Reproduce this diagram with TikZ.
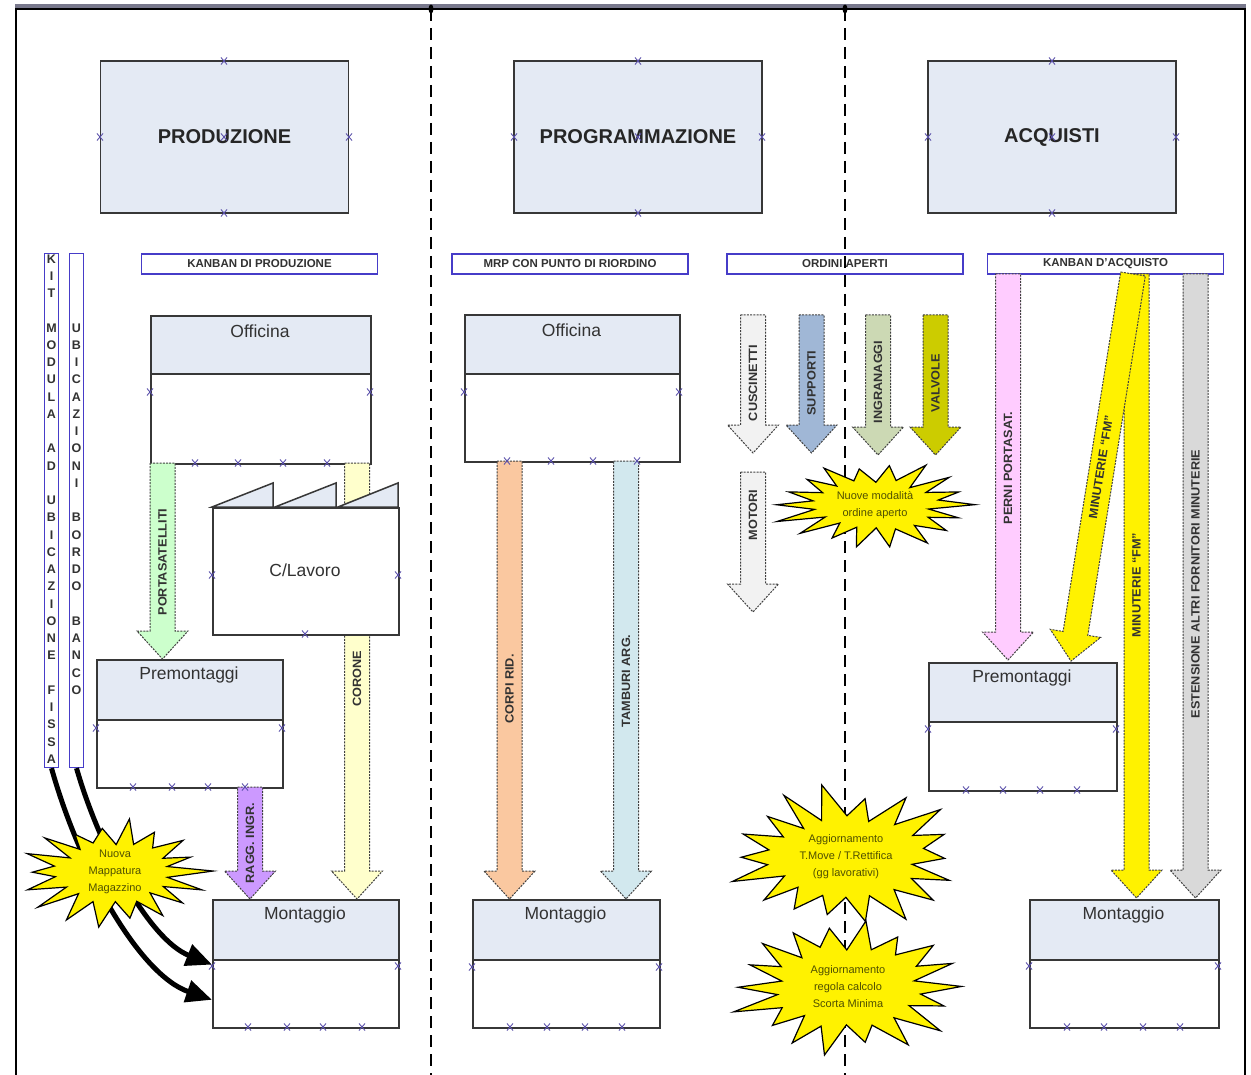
\documentclass[tikz,border=0pt]{standalone}
\usepackage{fontspec}
\setmainfont{Liberation Sans}
\newfontfamily\lblfont[FakeStretch=1.06]{Liberation Sans}
\usetikzlibrary{arrows.meta,calc}
\definecolor{boxblue}{RGB}{228,234,244}
\definecolor{boxline}{RGB}{55,55,55}
\definecolor{hdrblue}{RGB}{70,60,200}
\definecolor{xcol}{RGB}{90,80,170}
\definecolor{txtgray}{RGB}{50,50,50}
\definecolor{burstTxt}{RGB}{80,80,0}
\definecolor{cGreen}{RGB}{204,255,204}
\definecolor{cLYellow}{RGB}{255,255,204}
\definecolor{cPurple}{RGB}{204,153,255}
\definecolor{cOrange}{RGB}{250,200,160}
\definecolor{cCyan}{RGB}{210,232,238}
\definecolor{cLGray}{RGB}{242,242,242}
\definecolor{cSteel}{RGB}{160,183,214}
\definecolor{cOlive}{RGB}{204,217,180}
\definecolor{cDOlive}{RGB}{204,204,0}
\definecolor{cPink}{RGB}{255,204,255}
\definecolor{cGray}{RGB}{217,217,217}
\definecolor{frameGray}{RGB}{120,120,140}
\tikzset{
  bigbox/.style={draw=boxline, line width=1.6pt, fill=boxblue, minimum width=248pt, minimum height=152pt, inner sep=0pt, font=\fontsize{20}{24}\selectfont\bfseries, text=black!85},
  hdr/.style={draw=hdrblue, line width=1.6pt, fill=white, minimum width=236pt, minimum height=20pt, inner sep=0pt, font=\fontsize{11.5}{13}\selectfont\bfseries, text=txtgray},
  vbox/.style={draw=hdrblue, line width=1.3pt, fill=white, minimum width=14pt, minimum height=514pt, inner sep=0pt},
  vlet/.style={align=center, inner sep=0pt, font=\fontsize{12.5}{17.25}\selectfont\bfseries, text=txtgray},
  topP/.style={draw=boxline, line width=1.6pt, fill=boxblue, inner sep=0pt},
  botP/.style={draw=boxline, line width=1.6pt, fill=white, inner sep=0pt},
  btxt/.style={font=\fontsize{17.5}{20}\selectfont, text=txtgray, inner sep=0pt},
  alabel/.style={rotate=90, font=\lblfont\fontsize{12}{14}\selectfont\bfseries, text=txtgray, inner sep=0pt},
  dlabel/.style={rotate=80.9, font=\lblfont\fontsize{12}{14}\selectfont\bfseries, text=txtgray, inner sep=0pt},
  barrow/.style={draw=black!75, line width=1pt, dash pattern=on 2pt off 1.2pt},
  burstline/.style={fill=yellow, draw=black, line width=1.2pt, line join=miter, miter limit=20},
  bursttxt/.style={align=center, font=\fontsize{11}{17}\selectfont, text=burstTxt, inner sep=0pt},
  curvearrow/.style={line width=5pt, black, -{Triangle[length=26pt,width=22pt]}},
  sepline/.style={black, line width=1.5pt, dash pattern=on 12pt off 7pt},
  xm/.pic={\draw[xcol, line width=0.9pt] (-3,-3.5)--(3,3.5) (-3,3.5)--(3,-3.5);},
}
\newcommand\flowbox[7]{%
  \node[topP, minimum width={(#3-#2)*1pt}, minimum height={(#5-#4)*1pt}, anchor=north west] (#1t) at (#2,#4) {};
  \node[botP, minimum width={(#3-#2)*1pt}, minimum height={(#6-#5)*1pt}, anchor=north west] (#1b) at (#2,#5) {};
  \node[btxt] (#1x) at ({(#2+#3)/2},{#4+16}) {#7};}
\newcommand\vblock[7]{%
  \filldraw[barrow, fill=#2] (#3-12.5,#4) -- (#3+12.5,#4) -- (#3+12.5,#5-28) -- (#3+25.5,#5-28) -- (#3,#5) -- (#3-25.5,#5-28) -- (#3-12.5,#5-28) -- cycle;
  \node[alabel] (#1) at (#3,#7) {#6};}
% #1 name #2 cx #3 cy #4 outer rx #5 outer ry #6 inner rx #7 inner ry #8 seed #9 text
\newcommand\burstfig[9]{%
  \pgfmathsetseed{#8}%
  \foreach \i in {0,...,35}{%
    \pgfmathsetmacro\burF{ifthenelse(mod(\i,2)==0,0.78+0.22*rnd,0.9+0.18*rnd)}%
    \pgfmathsetmacro\burRx{ifthenelse(mod(\i,2)==0,#4,#6)}%
    \pgfmathsetmacro\burRy{ifthenelse(mod(\i,2)==0,#5,#7)}%
    \pgfmathsetmacro\burA{\i*10+3*(rnd-0.5)}%
    \coordinate (#1p\i) at ({#2+\burF*\burRx*cos(\burA)},{#3+\burF*\burRy*sin(\burA)});
  }%
  \filldraw[burstline] (#1p0) \foreach \i in {1,...,35}{ -- (#1p\i)} -- cycle;
  \node[bursttxt] (#1) at (#2,#3) {#9};}
\begin{document}
\begin{tikzpicture}[x=1pt,y=-1pt]
\useasboundingbox[fill=white] (0,0) rectangle (1251,1075);
% frame
\fill[frameGray] (15,4) rectangle (1246,8);
\draw[black, line width=2pt] (15,9) -- (1246,9);
\draw[black, line width=2.5pt] (16,8) -- (16,1075);
\draw[black, line width=2.5pt] (1245,8) -- (1245,1075);
% top boxes
\node[bigbox] (prod) at (224.5,137) {PRODUZIONE};
\node[bigbox] (prog) at (638,137) {PROGRAMMAZIONE};
\node[bigbox] (acq) at (1052,137) {ACQUISTI};
% headers
\node[hdr] (hKP) at (259.5,264) {KANBAN DI PRODUZIONE};
\node[hdr] (hMRP) at (570,264) {MRP CON PUNTO DI RIORDINO};
\node[hdr] (hOA) at (845,264) {ORDINI APERTI};
\node[hdr] (hKA) at (1105.5,264) {KANBAN D'ACQUISTO};
% vertical boxes
\node[vbox] (kitbox) at (51.5,510.5) {};
\node[vlet] (kittxt) at (51.5,509) {K\\I\\T\\~\\M\\O\\D\\U\\L\\A\\~\\A\\D\\~\\U\\B\\I\\C\\A\\Z\\I\\O\\N\\E\\~\\F\\I\\S\\S\\A};
\node[vbox] (ubibox) at (76.5,510.5) {};
\node[vlet] (ubitxt) at (76.5,509) {U\\B\\I\\C\\A\\Z\\I\\O\\N\\I\\~\\B\\O\\R\\D\\O\\~\\B\\A\\N\\C\\O};
% flow boxes
\flowbox{offP}{150}{370}{315}{373}{463}{Officina}
\flowbox{preP}{96}{282}{659}{719}{787}{Premontaggi}
\flowbox{monP}{212}{398}{899}{959}{1027}{Montaggio}
\flowbox{offG}{464}{679}{314}{373}{461}{Officina}
\flowbox{monG}{472}{659}{899}{959}{1027}{Montaggio}
\flowbox{preA}{928}{1116}{662}{721}{790}{Premontaggi}
\flowbox{monA}{1029}{1218}{899}{959}{1027}{Montaggio}
% block arrows
\vblock{aPort}{cGreen}{162.5}{463}{659}{PORTASATELLITI}{562}
\vblock{aCor}{cLYellow}{357}{463}{899}{CORONE}{679}
\vblock{aRagg}{cPurple}{250}{787}{899}{RAGG. INGR.}{843}
\vblock{aCorpi}{cOrange}{509.5}{461}{899}{CORPI RID.}{689}
\vblock{aTamb}{cCyan}{626}{461}{899}{TAMBURI ARG.}{681}
\vblock{aCusc}{cLGray}{753}{315}{453}{CUSCINETTI}{383}
\vblock{aSupp}{cSteel}{811.5}{315}{453}{SUPPORTI}{383}
\vblock{aIngr}{cOlive}{878}{315}{455}{INGRANAGGI}{382}
\vblock{aValv}{cDOlive}{935.5}{315}{455}{VALVOLE}{383}
\vblock{aMot}{cLGray}{753}{472}{612}{MOTORI}{515}
\vblock{aPerni}{cPink}{1008}{274}{660}{PERNI PORTASAT.}{468}
\vblock{aMinV}{yellow}{1136.5}{274}{898}{MINUTERIE “FM”}{585}
\vblock{aEst}{cGray}{1195.5}{274}{898}{ESTENSIONE ALTRI FORNITORI MINUTERIE}{584}
\begin{scope}[shift={(1133,274)}, rotate=-9.1]
  \filldraw[barrow, fill=yellow] (-12.5,0) -- (12.5,0) -- (12.5,364) -- (25.5,364) -- (0,392) -- (-25.5,364) -- (-12.5,364) -- cycle;
\end{scope}
\node[dlabel] (aMinD) at (1101,467) {MINUTERIE “FM”};
% C/Lavoro
\filldraw[fill=boxblue, draw=boxline, line width=1.5pt] (212,507) -- (273,483) -- (273,507) -- cycle;
\filldraw[fill=boxblue, draw=boxline, line width=1.5pt] (275,507) -- (336,483) -- (336,507) -- cycle;
\filldraw[fill=boxblue, draw=boxline, line width=1.5pt] (338,507) -- (398,483) -- (398,507) -- cycle;
\node[botP, minimum width=186pt, minimum height=127pt, anchor=north west] (clav) at (212,507) {};
\node[btxt] (clavx) at (305,570) {C/Lavoro};
% separators
\draw[sepline] (431,9) -- (431,1075);
\draw[sepline] (845,9) -- (845,1075);
\fill[black] (431,9) ellipse [x radius=2.5, y radius=4.5];
\fill[black] (845,9) ellipse [x radius=2.5, y radius=4.5];
% markers
\foreach \x/\y in {224/61, 224/213, 100/137, 349/137, 224/137,
  638/61, 638/213, 514/137, 762/137, 638/137,
  1052/61, 1052/213, 928/137, 1176/137, 1052/137,
  150/392, 370/392, 195/463, 238/463, 283/463, 327/463,
  212/575, 398/575, 305/634,
  96/728, 282/728, 133/787, 172/787, 208/787, 245/787,
  212/966, 398/966, 248/1027, 287/1027, 323/1027, 362/1027,
  464/392, 679/392, 507/461, 551/461, 593/461, 637/461,
  472/967, 659/967, 510/1027, 547/1027, 585/1027, 622/1027,
  928/729, 1116/729, 966/790, 1003/790, 1040/790, 1077/790,
  1029/966, 1218/966, 1067/1027, 1104/1027, 1143/1027, 1180/1027}
  \pic at (\x,\y) {xm};
% curved arrows
\draw[curvearrow] (kitbox.south) .. controls (80,870) and (140,975) .. ([yshift=-6pt]monPb.west);
\draw[curvearrow] (ubibox.south) .. controls (100,850) and (150,940) .. ([yshift=-4pt]monPt.south west);
% starbursts
\burstfig{b1}{115}{872}{101}{56}{58}{30}{7}{Nuova\\Mappatura\\Magazzino}
\burstfig{b2}{875}{505}{108}{47}{60}{25}{11}{Nuove modalità\\ordine aperto}
\burstfig{b3}{846}{857}{126}{75}{74}{41}{23}{Aggiornamento\\T.Move / T.Rettifica\\(gg lavorativi)}
\burstfig{b4}{848}{987}{125}{72}{74}{40}{31}{Aggiornamento\\regola calcolo\\Scorta Minima}
\end{tikzpicture}
\end{document}
